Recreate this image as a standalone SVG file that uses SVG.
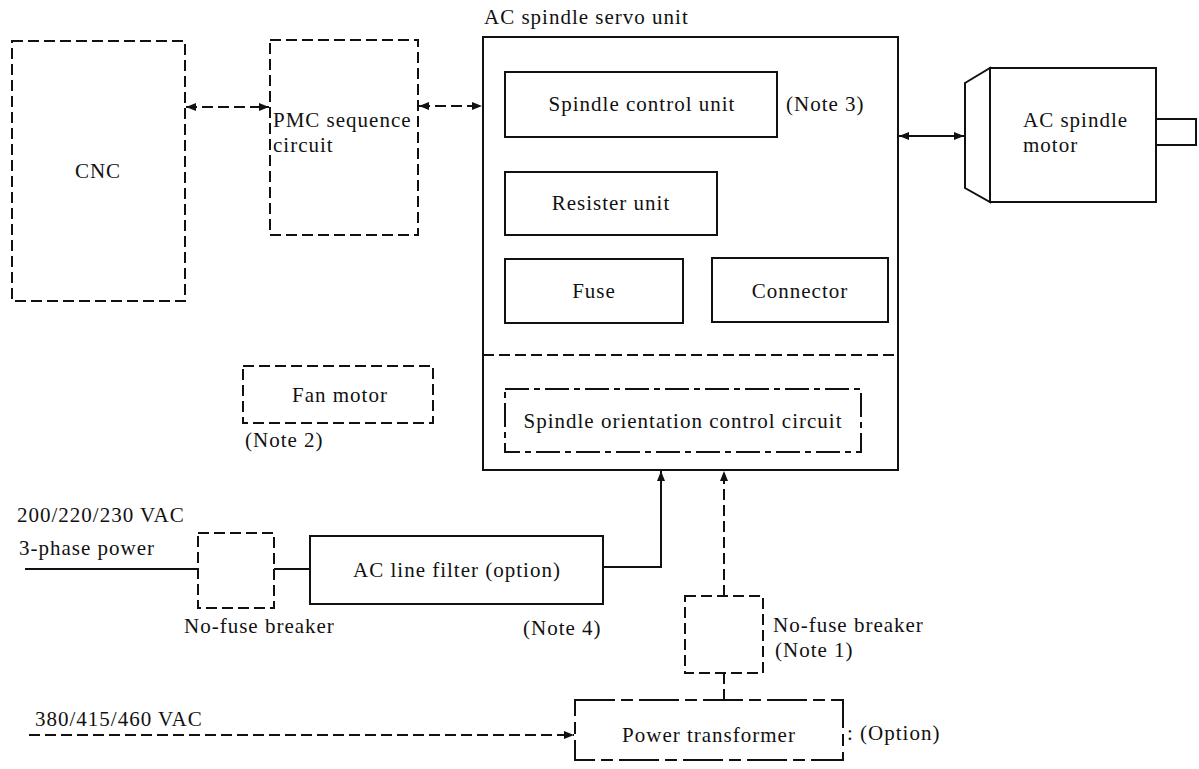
<svg xmlns="http://www.w3.org/2000/svg" width="1199" height="769" viewBox="0 0 1199 769">
<style>
  .t { font-family: 'Liberation Serif', 'DejaVu Serif', 'Times New Roman', serif; font-size: 21px; fill: #111; letter-spacing: 1px; }
  .m { text-anchor: middle; }
  .solid { fill: none; stroke: #111; stroke-width: 2; }
  .dash { fill: none; stroke: #111; stroke-width: 2; stroke-dasharray: 11 5; }
  .dashdot { fill: none; stroke: #111; stroke-width: 2; stroke-dasharray: 24 5 6 5; }
  .longdash { fill: none; stroke: #111; stroke-width: 2; stroke-dasharray: 40 6 12 6; }
</style>
<defs>
  <marker id="ah" viewBox="0 0 10 8" refX="10" refY="4" markerWidth="11" markerHeight="8" orient="auto-start-reverse" markerUnits="userSpaceOnUse">
    <path d="M0,0 L10,4 L0,8 z" fill="#111" stroke="none"/>
  </marker>
</defs>
<rect x="0" y="0" width="1199" height="769" fill="#fff"/>

<g font-family="Liberation Serif, DejaVu Serif, serif">
<g id="cnc">
  <rect class="dash" x="12" y="41" width="173" height="260"/>
  <text class="t m" x="98" y="178">CNC</text>
</g>

<g id="pmc">
  <rect class="dash" x="270" y="40" width="148" height="195"/>
  <text class="t" x="273" y="127">PMC sequence</text>
  <text class="t" x="273" y="152">circuit</text>
</g>

<g id="servo-unit">
  <text class="t" x="484" y="24">AC spindle servo unit</text>
  <rect class="solid" x="483" y="37" width="415" height="433"/>
  <line class="dash" x1="483" y1="355" x2="898" y2="355"/>
</g>

<g id="spindle-control">
  <rect class="solid" x="505" y="72" width="272" height="65"/>
  <text class="t m" x="642" y="111">Spindle control unit</text>
  <text class="t" x="786" y="111">(Note 3)</text>
</g>

<g id="resister">
  <rect class="solid" x="505" y="172" width="212" height="63"/>
  <text class="t m" x="611" y="210">Resister unit</text>
</g>

<g id="fuse">
  <rect class="solid" x="505" y="259" width="178" height="64"/>
  <text class="t m" x="594" y="298">Fuse</text>
</g>

<g id="connector">
  <rect class="solid" x="712" y="258" width="176" height="64"/>
  <text class="t m" x="800" y="298">Connector</text>
</g>

<g id="orientation">
  <rect class="dashdot" x="505" y="389" width="356" height="63"/>
  <text class="t m" x="683" y="428">Spindle orientation control circuit</text>
</g>

<g id="motor">
  <polygon class="solid" points="965,83 990,68 990,202 965,188"/>
  <rect class="solid" x="990" y="68" width="166" height="134"/>
  <rect class="solid" x="1156" y="119" width="40" height="26"/>
  <text class="t" x="1023" y="127">AC spindle</text>
  <text class="t" x="1023" y="152">motor</text>
</g>

<g id="fan-motor">
  <rect class="dash" x="243" y="366" width="190" height="57"/>
  <text class="t m" x="340" y="402">Fan motor</text>
  <text class="t" x="245" y="447">(Note 2)</text>
</g>

<g id="breaker-left">
  <rect class="dash" x="198" y="533" width="76" height="75"/>
  <text class="t" x="184" y="633">No-fuse breaker</text>
</g>

<g id="line-filter">
  <rect class="solid" x="310" y="536" width="293" height="68"/>
  <text class="t m" x="457" y="577">AC line filter (option)</text>
  <text class="t" x="523" y="635">(Note 4)</text>
</g>

<g id="breaker-right">
  <rect class="dash" x="685" y="596" width="78" height="77"/>
  <text class="t" x="773" y="632">No-fuse breaker</text>
  <text class="t" x="775" y="657">(Note 1)</text>
</g>

<g id="transformer">
  <rect class="longdash" x="575" y="700" width="268" height="60"/>
  <text class="t m" x="709" y="742">Power transformer</text>
  <text class="t" x="847" y="740">: (Option)</text>
</g>

<g id="labels">
  <text class="t" x="17" y="522">200/220/230 VAC</text>
  <text class="t" x="19" y="555">3-phase power</text>
  <text class="t" x="35" y="726">380/415/460 VAC</text>
</g>
</g>

<g id="connectors">
  <line class="dash" x1="186" y1="107" x2="269" y2="107" marker-start="url(#ah)" marker-end="url(#ah)"/>
  <line class="dash" x1="419" y1="106" x2="482" y2="106" marker-start="url(#ah)" marker-end="url(#ah)"/>
  <line class="solid" x1="899" y1="136" x2="964" y2="136" marker-start="url(#ah)" marker-end="url(#ah)"/>
  <line class="solid" x1="25" y1="569" x2="198" y2="569"/>
  <line class="solid" x1="274" y1="569" x2="310" y2="569"/>
  <polyline class="solid" points="603,567 661,567 661,471" marker-end="url(#ah)"/>
  <line class="dash" x1="724" y1="596" x2="724" y2="471" marker-end="url(#ah)"/>
  <line class="dash" x1="724" y1="700" x2="724" y2="673"/>
  <line class="dash" x1="29" y1="735" x2="574" y2="735" marker-end="url(#ah)"/>
</g>
</svg>
